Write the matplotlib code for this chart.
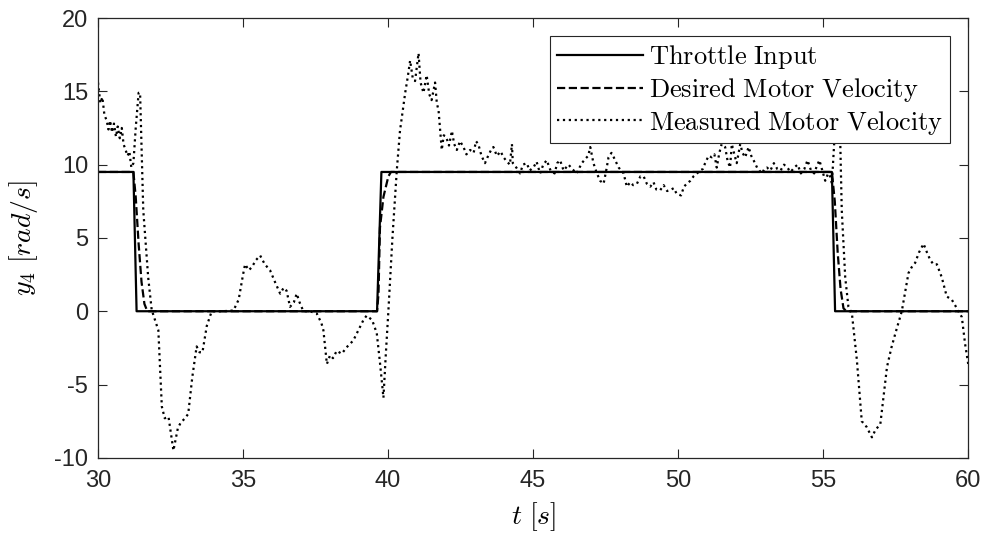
#!/usr/bin/env python3

import matplotlib
matplotlib.use("Agg")
import matplotlib.pyplot as plt

plt.rcParams["mathtext.fontset"] = "cm"
plt.rcParams["font.family"] = ["Liberation Sans", "DejaVu Sans"]
plt.rcParams["axes.unicode_minus"] = False

# throttle input (step changes)
throttle_t = [30.0, 31.22, 31.33, 39.62, 39.77, 55.30, 55.41, 60.0]
throttle_y = [9.5, 9.5, 0.0, 0.0, 9.5, 9.5, 0.0, 0.0]

# desired motor velocity (lagged throttle)
desired_t = [30.0, 31.22, 31.30, 31.40, 31.50, 31.60, 31.70,
             39.62, 39.67, 39.72, 39.84, 40.01, 40.10,
             55.30, 55.40, 55.50, 55.60, 55.70, 55.80, 60.0]
desired_y = [9.5, 9.5, 7.8, 4.6, 2.0, 0.5, 0.0,
             0.0, 1.2, 5.7, 7.8, 9.2, 9.5,
             9.5, 7.5, 4.0, 1.5, 0.2, 0.0, 0.0]

# measured motor velocity
measured_t = [
    30.00, 30.08, 30.15, 30.22, 30.30, 30.36, 30.42, 30.48, 30.55, 30.62,
    30.68, 30.75, 30.82, 30.88, 30.95, 31.02, 31.08, 31.15, 31.22, 31.30,
    31.40, 31.45, 31.56, 31.73, 31.85, 32.00, 32.08, 32.20, 32.30, 32.43,
    32.60, 32.75, 32.85, 33.00, 33.11, 33.25, 33.40, 33.50, 33.60, 33.75,
    33.92, 34.30, 34.67, 34.85, 35.00, 35.07, 35.20, 35.30, 35.45, 35.59,
    35.75, 35.93, 36.10, 36.28, 36.40, 36.50, 36.62, 36.75, 36.85, 36.95,
    37.08, 37.30, 37.54, 37.70, 37.77, 37.89, 38.00, 38.10, 38.23, 38.40,
    38.60, 38.80, 39.00, 39.15, 39.26, 39.45, 39.61, 39.72, 39.84, 39.92,
    40.01, 40.15, 40.30, 40.41, 40.59, 40.68, 40.76, 40.85, 40.93, 41.05,
    41.12, 41.22, 41.33, 41.42, 41.50, 41.62, 41.68, 41.74, 41.85, 41.92,
    42.00, 42.10, 42.20, 42.28, 42.37, 42.48, 42.60, 42.70, 42.83, 42.95,
    43.03, 43.11, 43.22, 43.34, 43.45, 43.55, 43.63, 43.75, 43.88, 43.98,
    44.10, 44.20, 44.27, 44.30, 44.42, 44.55, 44.65, 44.78, 44.88, 45.01,
    45.12, 45.24, 45.35, 45.47, 45.60, 45.74, 45.83, 45.93, 46.05, 46.22,
    46.35, 46.50, 46.60, 46.68, 46.80, 46.90, 46.97, 47.08, 47.20, 47.31,
    47.43, 47.52, 47.60, 47.70, 47.78, 47.95, 48.12, 48.23, 48.35, 48.45,
    48.58, 48.70, 48.81, 48.92, 49.04, 49.15, 49.25, 49.38, 49.50, 49.62,
    49.72, 49.85, 49.95, 50.10, 50.20, 50.30, 50.42, 50.53, 50.65, 50.76,
    50.85, 50.93, 51.05, 51.16, 51.25, 51.33, 51.42, 51.50, 51.62, 51.70,
    51.79, 51.85, 51.95, 52.02, 52.14, 52.22, 52.31, 52.43, 52.52, 52.60,
    52.72, 52.80, 52.89, 52.97, 53.06, 53.18, 53.30, 53.42, 53.53, 53.65,
    53.76, 53.88, 54.00, 54.12, 54.23, 54.35, 54.46, 54.58, 54.69, 54.78,
    54.87, 54.97, 55.07, 55.17, 55.24, 55.30, 55.38, 55.45, 55.52, 55.59,
    55.64, 55.76, 55.87, 55.99, 56.16, 56.33, 56.50, 56.68, 56.80, 56.97,
    57.10, 57.20, 57.35, 57.49, 57.71, 57.94, 58.05, 58.17, 58.30, 58.46,
    58.58, 58.69, 58.80, 58.92, 59.09, 59.26, 59.35, 59.43, 59.55, 59.66,
    59.78, 59.89, 60.00,
]
measured_y = [
    15.6, 14.2, 14.6, 13.4, 13.0, 12.4, 13.0, 12.2, 12.8, 11.9,
    12.6, 11.8, 12.5, 11.4, 11.0, 10.6, 10.9, 9.8, 10.1, 12.5,
    14.9, 14.9, 6.9, 2.3, 0.1, -0.8, -1.3, -6.5, -7.3, -7.2,
    -9.5, -8.0, -7.6, -7.3, -7.0, -4.5, -2.4, -2.8, -2.8, -1.0,
    0.0, 0.0, 0.05, 0.8, 2.5, 3.2, 2.8, 3.0, 3.5, 3.8,
    3.2, 2.8, 2.0, 1.2, 1.6, 1.4, 0.3, 0.6, 1.2, 0.6,
    0.0, 0.0, -0.15, -0.8, -1.3, -3.6, -3.0, -3.2, -2.7, -2.9,
    -2.4, -2.0, -1.2, -0.6, -0.3, -0.6, -1.5, -3.5, -5.9, -3.0,
    0.0, 5.0, 9.6, 12.3, 14.9, 16.0, 17.1, 15.9, 15.7, 17.6,
    15.6, 14.9, 16.1, 14.8, 14.4, 15.6, 14.2, 13.7, 11.0, 12.0,
    11.9, 11.3, 12.3, 11.4, 11.0, 11.6, 11.2, 10.7, 11.0, 10.8,
    11.6, 11.4, 10.6, 10.1, 10.6, 11.0, 11.2, 10.6, 10.9, 10.5,
    10.2, 10.0, 11.4, 10.1, 9.8, 9.4, 10.0, 10.1, 9.6, 9.8,
    10.2, 9.4, 10.0, 10.3, 9.6, 9.4, 10.1, 10.3, 9.6, 10.0,
    9.7, 9.4, 9.8, 10.1, 10.4, 10.6, 11.2, 10.1, 9.4, 8.9,
    8.7, 9.6, 10.5, 10.8, 10.5, 9.8, 9.4, 8.5, 8.8, 8.6,
    8.7, 9.2, 9.2, 8.7, 8.5, 8.8, 8.3, 8.25, 8.6, 8.2,
    8.25, 8.4, 8.0, 7.9, 8.5, 8.7, 8.9, 9.2, 9.4, 9.6,
    9.7, 10.1, 10.6, 10.5, 10.7, 9.8, 10.8, 11.4, 11.2, 10.3,
    9.8, 11.4, 10.6, 10.1, 11.4, 10.8, 10.5, 11.2, 10.6, 10.3,
    9.8, 9.6, 9.4, 9.7, 9.8, 9.6, 10.1, 9.7, 9.6, 10.0,
    9.8, 9.5, 9.8, 10.0, 9.4, 9.7, 10.3, 9.6, 9.4, 9.9,
    10.3, 9.6, 8.9, 9.4, 9.2, 8.7, 11.5, 14.5, 13.0, 11.4,
    6.9, 2.3, 0.3, -0.15, -3.3, -7.5, -7.9, -8.6, -8.1, -7.7,
    -5.5, -3.8, -2.5, -1.5, 0.0, 2.6, 3.0, 3.3, 4.0, 4.6,
    4.0, 3.5, 3.2, 3.2, 2.3, 1.0, 0.9, 0.8, 0.4, 0.0,
    -0.4, -2.2, -3.6,
]

LABELS = [r"$\mathrm{Throttle\ Input}$",
          r"$\mathrm{Desired\ Motor\ Velocity}$",
          r"$\mathrm{Measured\ Motor\ Velocity}$"]


def main():
    fig = plt.figure(figsize=(9.9, 5.38), dpi=100)
    ax = fig.add_axes([0.099, 0.149, 0.879, 0.8175])

    ax.plot(throttle_t, throttle_y, color="black", lw=1.6, ls="-", label=LABELS[0])
    ax.plot(desired_t, desired_y, color="black", lw=1.6, ls="--", label=LABELS[1])
    ax.plot(measured_t, measured_y, color="black", lw=1.6, ls=":", label=LABELS[2])

    ax.set_xlim(30, 60)
    ax.set_ylim(-10, 20)
    ax.set_xticks(range(30, 61, 5))
    ax.set_yticks(range(-10, 21, 5))
    ax.tick_params(direction="in", top=True, right=True, labelsize=17,
                   length=6.5, width=0.8, colors="#262626")
    ax.tick_params(axis="x", pad=9)
    ax.tick_params(axis="y", pad=7)
    for s in ax.spines.values():
        s.set_color("#262626")
        s.set_linewidth(0.9)

    ax.set_xlabel(r"$t\ [s]$", fontsize=20, labelpad=6)
    ax.set_ylabel(r"$y_4\ [rad/s]$", fontsize=20, labelpad=10)

    leg = ax.legend(loc="upper right", fontsize=19, handlelength=3.25,
                    fancybox=False, framealpha=1, edgecolor="#262626",
                    borderpad=0.25, labelspacing=0.18, handletextpad=0.25,
                    borderaxespad=0.7)
    leg.get_frame().set_linewidth(0.8)

    plt.savefig("out.png", dpi=100)
    plt.close()


if __name__ == "__main__":
    main()
